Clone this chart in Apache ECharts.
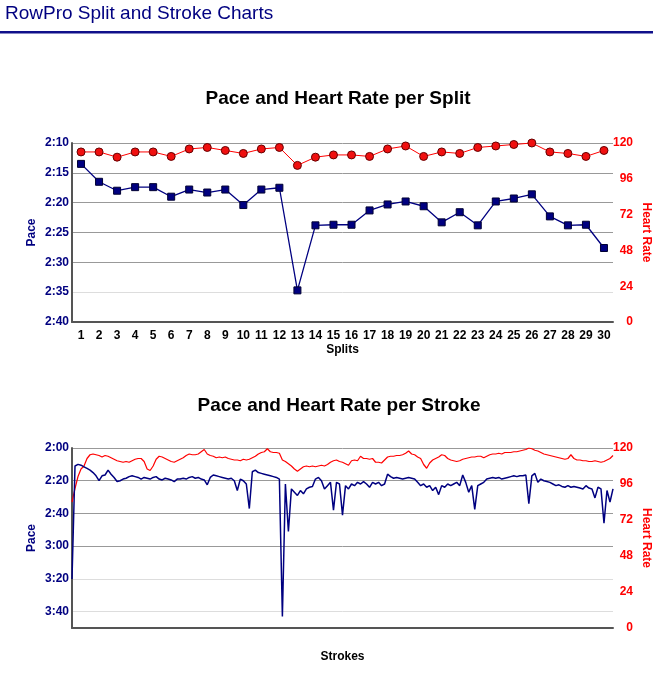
<!DOCTYPE html>
<html>
<head>
<meta charset="utf-8">
<script src="https://cdn.jsdelivr.net/npm/echarts@6/dist/echarts.min.js"></script>
<style>
  html, body { margin: 0; padding: 0; background: #fff; }
  #myChart { width: 653px; height: 682px; }
</style>
</head>
<body>
<div id="myChart"></div>
<script>
// split chart data (pace in seconds per 500m, heart rate in bpm)
var splits = ['1', '2', '3', '4', '5', '6', '7', '8', '9', '10', '11', '12', '13', '14', '15',
  '16', '17', '18', '19', '20', '21', '22', '23', '24', '25', '26', '27', '28', '29', '30']
var splitPace = [133.5, 136.5, 138, 137.4, 137.4, 139, 137.8, 138.3, 137.8, 140.4, 137.8, 137.5, 154.7, 143.8, 143.7,
  143.7, 141.3, 140.3, 139.8, 140.6, 143.3, 141.6, 143.8, 139.8, 139.3, 138.6, 142.3, 143.8, 143.7, 147.6]
var splitHr = [114, 114, 110.5, 114, 114, 111, 116, 117, 115, 113, 116, 117, 105, 110.5, 112,
  112, 111, 116, 118, 111, 114, 113, 117, 118, 119, 120, 114, 113, 111, 115]

// stroke chart data
var strokePace = [
  200, 131, 130, 130.5, 131.5, 132.5, 133.5, 135, 137, 140,
  137, 136.5, 133.5, 136, 138, 140.5, 140, 139, 138.5, 137.5,
  137, 137.5, 138, 139, 138, 138.5, 139, 138, 137.5, 139,
  139.5, 138.5, 139, 139.5, 140.5, 139, 139, 138.5, 139, 138,
  137.5, 138.5, 138, 139, 139.5, 142.5, 138, 136.5, 137, 137.5,
  138, 138.5, 139, 138.5, 140, 146, 139, 140, 142, 157,
  134.5, 133.5, 135, 135.5, 136, 136.5, 137, 137.5, 138, 139,
  223, 142, 171, 145, 147, 149, 146, 148, 145, 144,
  143.5, 139, 138, 140, 145, 143, 141, 158, 141, 142,
  161, 143, 145, 142, 143, 141, 142, 140.5, 142, 144,
  141, 142, 141, 143, 142, 136, 137.5, 138.5, 138, 138.5,
  139, 138.5, 138, 138.5, 139, 141, 143, 142, 144, 143,
  146, 144, 148.5, 143, 144, 142, 143, 142, 141, 143,
  136.5, 141, 147, 143, 157.5, 143, 142, 141, 139, 138.5,
  138, 138.5, 138, 139, 138.5, 138, 137.5, 137, 137.5, 137,
  137, 136.5, 154, 137, 135.5, 141, 139, 140, 140.5, 141,
  142, 143, 142.5, 143.5, 144, 143, 144, 143.5, 144, 144.5,
  145, 143, 144.5, 145, 150.5, 144, 145, 166, 146, 153,
  145
]
var strokeHr = [
  84, 93, 101, 106, 108, 113, 115.5, 116, 115.5, 115,
  114, 115, 114.5, 113.5, 112.5, 111.5, 111, 110.5, 111, 110.5,
  111.5, 112.5, 113, 113, 111, 106, 105, 108, 112.5, 114.5,
  114, 113, 112, 111, 110.5, 111.5, 112.5, 113.5, 115, 116,
  115.5, 115.5, 116, 117.5, 119, 116, 115, 114.5, 113.5, 114,
  113.5, 114, 113, 112.5, 112, 112, 111.5, 112.5, 112, 112.5,
  113.5, 114.5, 116, 117, 117.5, 119.5, 117.5, 117, 117, 116.5,
  112, 111, 109.5, 108, 106, 104.5, 106, 107.5, 108, 107.5,
  108, 107.5, 108, 108.5, 108, 109, 110.5, 111.5, 112, 111,
  110.5, 109.5, 108.5, 111.5, 112, 111.5, 114.5, 113, 113, 112.5,
  113, 110.5, 110.5, 110, 112, 114, 114.5, 114.5, 115, 115,
  115.5, 116.5, 118, 116, 115.5, 114, 113, 109, 106.5, 110,
  112, 113, 114, 115.5, 115, 113, 112, 111.5, 111, 111.5,
  112.5, 113, 113.5, 114, 114, 114.5, 114.5, 113.5, 114.5, 115.5,
  116, 116, 116.5, 116, 117, 117, 117, 117.5, 117.5, 118,
  118.5, 119, 120, 119.5, 118.5, 118, 117, 116, 115.5, 115,
  114.5, 114, 113.5, 113, 112.5, 113, 115.5, 113, 112, 112,
  111.5, 111.5, 111, 111, 111.5, 111, 110.5, 111, 112, 113,
  115
]
var strokes = strokePace.map(function (v, i) { return String(i + 1) })

var navy = '#000080'
var red = '#ff0000'
var font = "'Liberation Sans', Arial, Helvetica, sans-serif"

function paceLabel (v) {
  var m = Math.floor(v / 60)
  var s = Math.round(v - m * 60)
  return m + ':' + (s < 10 ? '0' + s : s)
}

function paceAxis (gi, min, max, step, colors) {
  return {
    type: 'value',
    gridIndex: gi,
    inverse: true,
    min: min,
    max: max,
    interval: step,
    name: 'Pace',
    nameLocation: 'middle',
    nameGap: 34,
    nameMoveOverlap: false,
    nameTextStyle: { color: navy, fontWeight: 'bold', fontSize: 12, fontFamily: font },
    axisLine: { show: true, lineStyle: { color: '#555', width: 2 } },
    axisTick: { show: false },
    axisLabel: {
      color: navy,
      fontWeight: 'bold',
      fontSize: 12,
      fontFamily: font,
      margin: 3,
      formatter: function (v) { return v === max && (max - min) % step !== 0 ? '' : paceLabel(v) }
    },
    splitLine: { show: true, lineStyle: { color: colors, width: 1 } }
  }
}

function hrAxis (gi) {
  return {
    type: 'value',
    gridIndex: gi,
    position: 'right',
    min: 0,
    max: 120,
    interval: 24,
    name: 'Heart Rate',
    nameLocation: 'middle',
    nameGap: 27,
    nameRotate: -90,
    nameMoveOverlap: false,
    nameTextStyle: { color: red, fontWeight: 'bold', fontSize: 12, fontFamily: font },
    axisLine: { show: false },
    axisTick: { show: false },
    axisLabel: { color: red, fontWeight: 'bold', fontSize: 12, fontFamily: font, align: 'right', margin: 20 },
    splitLine: { show: false }
  }
}

var myChart = echarts.init(document.getElementById('myChart'))
myChart.setOption({
  animation: false,
  backgroundColor: '#fff',
  textStyle: { fontFamily: font },
  graphic: [
    {
      type: 'text', left: 5, top: 4,
      style: { text: 'RowPro Split and Stroke Charts', fill: navy, font: 'normal 19px ' + font }
    },
    {
      type: 'rect', shape: { x: 0, y: 31, width: 653, height: 2.5 },
      style: { fill: '#10108a' }
    },
    {
      type: 'text', x: 338, y: 99,
      style: { text: 'Pace and Heart Rate per Split', fill: '#000', font: 'bold 19px ' + font, align: 'center', verticalAlign: 'middle' }
    },
    {
      type: 'text', x: 339, y: 406,
      style: { text: 'Pace and Heart Rate per Stroke', fill: '#000', font: 'bold 19px ' + font, align: 'center', verticalAlign: 'middle' }
    }
  ],
  grid: [
    { left: 72, right: 40, top: 143, height: 179, outerBoundsMode: 'none' },
    { left: 72, right: 40, top: 448, height: 180, outerBoundsMode: 'none' }
  ],
  xAxis: [
    {
      type: 'category',
      gridIndex: 0,
      data: splits,
      boundaryGap: true,
      name: 'Splits',
      nameLocation: 'middle',
      nameGap: 22,
      nameMoveOverlap: false,
      nameTextStyle: { color: '#000', fontWeight: 'bold', fontSize: 12, fontFamily: font },
      axisLine: { lineStyle: { color: '#555', width: 2 } },
      axisTick: { show: false },
      axisLabel: { color: '#000', fontWeight: 'bold', fontSize: 12, fontFamily: font, margin: 8, interval: 0 }
    },
    {
      type: 'category',
      gridIndex: 1,
      data: strokes,
      boundaryGap: false,
      name: 'Strokes',
      nameLocation: 'middle',
      nameGap: 23,
      nameMoveOverlap: false,
      nameTextStyle: { color: '#000', fontWeight: 'bold', fontSize: 12, fontFamily: font },
      axisLine: { lineStyle: { color: '#555', width: 2 } },
      axisTick: { show: false },
      axisLabel: { show: false }
    }
  ],
  yAxis: [
    paceAxis(0, 130, 160, 5, ['#999', '#999', '#999', '#999', '#999', '#ddd', '#999']),
    hrAxis(0),
    paceAxis(1, 120, 230, 20, ['#999', '#999', '#999', '#999', '#ddd', '#ddd', '#999']),
    hrAxis(1)
  ],
  series: [
    {
      type: 'line', xAxisIndex: 0, yAxisIndex: 1, data: splitHr,
      symbol: 'circle', symbolSize: 8,
      lineStyle: { color: red, width: 1 },
      itemStyle: { color: '#f01010', borderColor: '#600', borderWidth: 1 }
    },
    {
      type: 'line', xAxisIndex: 0, yAxisIndex: 0, data: splitPace,
      symbol: 'rect', symbolSize: 7,
      lineStyle: { color: navy, width: 1.3 },
      itemStyle: { color: navy, borderColor: '#000033', borderWidth: 1 }
    },
    {
      type: 'line', xAxisIndex: 1, yAxisIndex: 3, data: strokeHr,
      showSymbol: false,
      lineStyle: { color: red, width: 1.2 }
    },
    {
      type: 'line', xAxisIndex: 1, yAxisIndex: 2, data: strokePace,
      showSymbol: false,
      lineStyle: { color: navy, width: 1.5 }
    }
  ]
})
</script>
</body>
</html>
